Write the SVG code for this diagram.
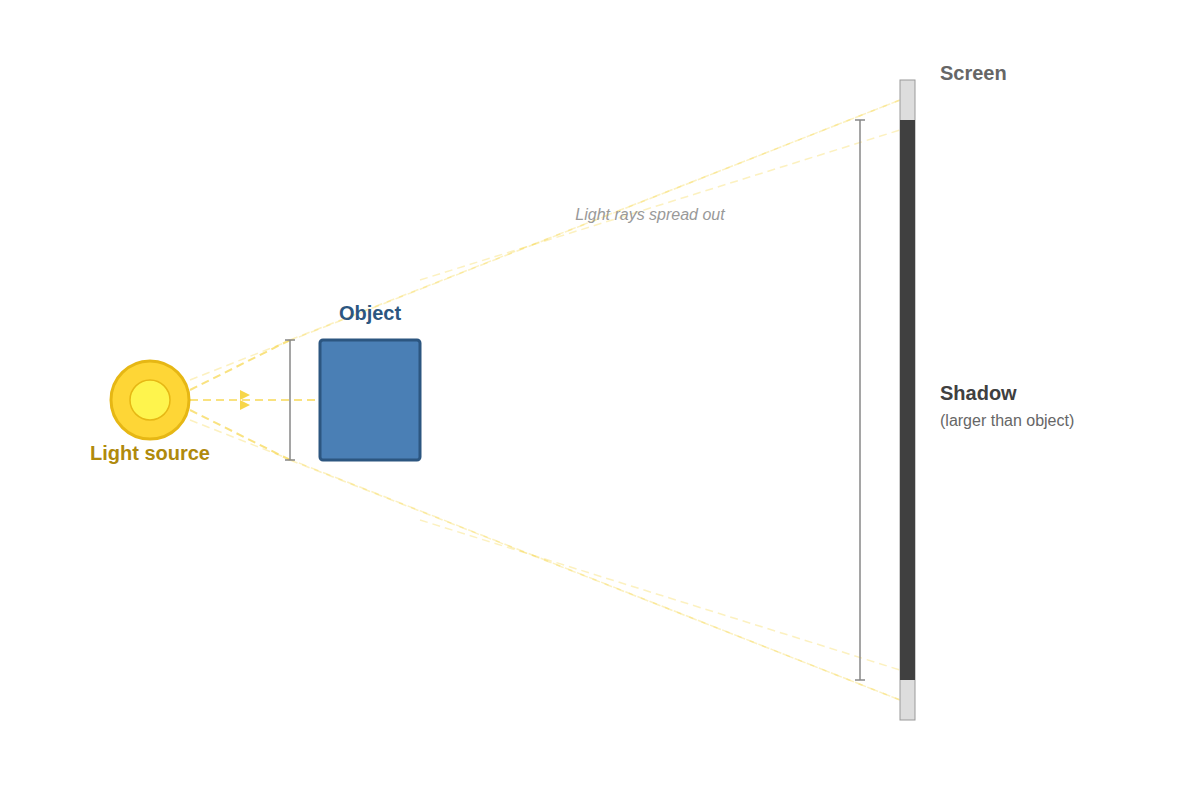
<svg xmlns="http://www.w3.org/2000/svg" width="1200" height="800" viewBox="0 0 1200 800">
<style>
.ray{stroke:#f7d64a;fill:none;stroke-dasharray:8 5}
.f{stroke-opacity:.35;stroke-width:1.5}
.m{stroke-opacity:.7;stroke-width:2}
.dim{stroke:#888;stroke-width:1.5;fill:none}
text{font-family:"Liberation Sans",Arial,sans-serif}
</style>
<rect width="1200" height="800" fill="#fff"/>
<g id="connectors">
<path class="ray f" d="M190 380L900 100M190 420L900 700"/>
<path class="ray m" d="M190 390L290 340M190 410L290 460"/>
<path class="ray f" d="M290 340L900 100M290 460L900 700"/>
<path class="ray f" d="M420 280L900 130M420 520L900 670"/>
<path class="ray m" d="M190 400L320 400"/>
<path d="M240 390L250 395L240 400ZM240 400L250 405L240 410Z" fill="#f7d64a"/>
</g>
<g id="light">
<circle cx="150" cy="400" r="39" fill="#fed636" stroke="#e6b714" stroke-width="3"/>
<circle cx="150" cy="400" r="20" fill="#fef44d" stroke="#e6b714" stroke-width="1.5"/>
<text x="150" y="460" text-anchor="middle" font-size="20" font-weight="bold" fill="#b08a0c">Light source</text>
</g>
<g id="object">
<rect x="320" y="340" width="100" height="120" rx="3" fill="#4a7fb5" stroke="#2c5680" stroke-width="3"/>
<text x="370" y="320" text-anchor="middle" font-size="20" font-weight="bold" fill="#2c5680">Object</text>
<path class="dim" d="M290 340V460M285 340H295M285 460H295"/>
</g>
<g id="screen">
<rect x="900" y="80" width="15" height="640" fill="#ddd" stroke="#999"/>
<rect x="900" y="120" width="15" height="560" fill="#404040"/>
<text x="940" y="80" font-size="20" font-weight="bold" fill="#666">Screen</text>
</g>
<g id="shadow">
<path class="dim" d="M860 120V680M855 120H865M855 680H865"/>
<text x="940" y="400" font-size="20" font-weight="bold" fill="#404040">Shadow</text>
<text x="940" y="426" font-size="16" fill="#666">(larger than object)</text>
</g>
<text x="650" y="220" text-anchor="middle" font-size="16" font-style="italic" fill="#999">Light rays spread out</text>
</svg>
